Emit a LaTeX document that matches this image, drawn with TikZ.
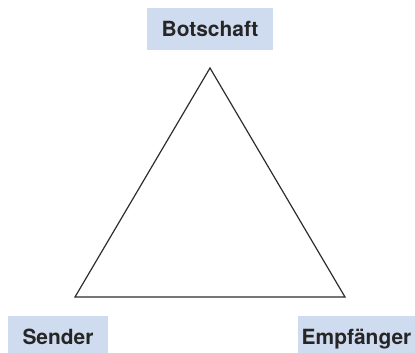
\documentclass[tikz,border=0pt]{standalone}
\usepackage{fontspec}
\setmainfont{TeX Gyre Heros}
\usepackage{tikz}
\definecolor{labelblue}{RGB}{207,220,240}
\definecolor{linegray}{RGB}{45,45,45}

\begin{document}
\begin{tikzpicture}[x=1bp,y=-1bp,
    label/.style={fill=labelblue,text=black!85,inner xsep=14.5bp,minimum height=42bp,
      text height=15bp,text depth=0bp,font=\bfseries\fontsize{21}{25}\selectfont}]
    \useasboundingbox (0,0) rectangle (415,353);
    \coordinate (top) at (210,68);
    \coordinate (left) at (75,297);
    \coordinate (right) at (345,297);
    \draw[linegray,line width=1.2bp,line join=miter] (top) -- (left) -- (right) -- cycle;
    \node[label] (botschaft) at (210,29) {Botschaft};
    \node[label,inner xsep=0bp,minimum width=99bp] (sender) at (58,337) {Sender};
    \node[label,inner xsep=0bp,minimum width=117bp] (empfaenger) at (356.5,337) {Empfänger};
    \end{tikzpicture}
\end{document}
